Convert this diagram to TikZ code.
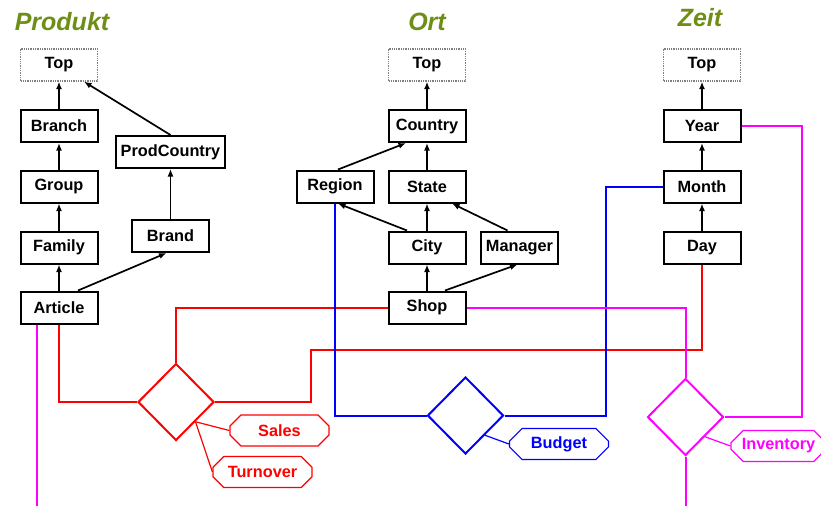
\documentclass[tikz,border=0pt]{standalone}
\usepackage{fontspec}
\setmainfont{Liberation Sans}
\usetikzlibrary{shapes.geometric,shapes.misc,arrows.meta}
\definecolor{titlegreen}{RGB}{110,142,22}
\definecolor{mag}{RGB}{255,0,255}
\begin{document}
\begin{tikzpicture}[x=1pt,y=-1pt,
  lvl/.style={draw=black,line width=2pt,fill=white,minimum width=77pt,minimum height=32pt,inner sep=0pt,font=\fontsize{16.3}{19}\selectfont\bfseries},
  topbox/.style={lvl,draw=gray,line width=1.3pt,densely dotted},
  ttl/.style={font=\fontsize{25}{29}\selectfont\bfseries\itshape,text=titlegreen},
  up/.style={-{Latex[length=7.5pt,width=6pt]},line width=1.7pt},
  rel/.style={draw,diamond,line width=2pt,minimum width=76pt,minimum height=77pt,inner sep=0pt},
  attr/.style={draw,chamfered rectangle,chamfered rectangle xsep=9pt,chamfered rectangle ysep=5pt,line width=1.2pt,minimum width=99pt,minimum height=31pt,inner sep=0pt,font=\fontsize{16.3}{19}\selectfont\bfseries},
  conn/.style={line width=2pt}]
\useasboundingbox (0,0) rectangle (821,506);
% titles
\node[ttl] (tp) at (62,22) {Produkt};
\node[ttl] (to) at (427,22) {Ort};
\node[ttl] (tz) at (700,18) {Zeit};
% Produkt
\node[topbox] (ptop) at (59,65) {Top};
\node[lvl] (branch) at (59,126) {Branch};
\node[lvl] (group) at (59,186.5) {Group};
\node[lvl] (family) at (59,247.5) {Family};
\node[lvl] (article) at (59,307.5) {Article};
\node[lvl,minimum width=109pt] (prodcountry) at (170.5,152) {ProdCountry};
\node[lvl] (brand) at (170.5,236) {Brand};
% Ort
\node[topbox] (otop) at (427,65) {Top};
\node[lvl] (country) at (427,126) {Country};
\node[lvl] (region) at (335,186.5) {Region};
\node[lvl] (state) at (427,186.5) {State};
\node[lvl] (city) at (427,247.5) {City};
\node[lvl] (manager) at (519.5,247.5) {Manager};
\node[lvl] (shop) at (427,307.5) {Shop};
% Zeit
\node[topbox] (ztop) at (702,65) {Top};
\node[lvl] (year) at (702,126) {Year};
\node[lvl] (month) at (702,186.5) {Month};
\node[lvl] (day) at (702,247.5) {Day};
% hierarchy arrows
\draw[up] (article.north) -- (family.south);
\draw[up] (family.north) -- (group.south);
\draw[up] (group.north) -- (branch.south);
\draw[up] (branch.north) -- (ptop.south);
\draw[up] ([xshift=19pt]article.north) -- ([xshift=-4pt]brand.south);
\draw[up] (brand.north) -- (prodcountry.south);
\draw[up] (prodcountry.north) -- ([xshift=25pt]ptop.south);
\draw[up] (country.north) -- (otop.south);
\draw[up] (state.north) -- (country.south);
\draw[up] ([xshift=3pt]region.north) -- ([xshift=-21pt]country.south);
\draw[up] (city.north) -- (state.south);
\draw[up] ([xshift=-20pt]city.north) -- ([xshift=3pt]region.south);
\draw[up] ([xshift=-12pt]manager.north) -- ([xshift=25pt]state.south);
\draw[up] (shop.north) -- (city.south);
\draw[up] ([xshift=18pt]shop.north) -- ([xshift=-2pt]manager.south);
\draw[up] (year.north) -- (ztop.south);
\draw[up] (month.north) -- (year.south);
\draw[up] (day.north) -- (month.south);
% Sales (red)
\node[rel,draw=red] (sales) at (176,402) {};
\node[attr,draw=red,text=red] (salesattr) at (279.5,430.5) {Sales};
\node[attr,draw=red,text=red] (turnover) at (262.5,472) {Turnover};
\coordinate (rk) at (311,350);
\draw[conn,red] (article.south) |- (sales.west);
\draw[conn,red] (sales.north) |- (shop.west);
\draw[conn,red] (sales.east) -| (rk) -| (day.south);
\draw[red,line width=1.2pt] (sales.south east) -- (salesattr.west);
\draw[red,line width=1.2pt] (sales.south east) -- (turnover.west);
% Budget (blue)
\node[rel,draw=blue] (budget) at (465.5,415.5) {};
\node[attr,draw=blue,text=blue] (budgetattr) at (559,444) {Budget};
\coordinate (bk) at (606,186.5);
\draw[conn,blue] (region.south) |- (budget.west);
\draw[conn,blue] (budget.east) -| (bk) -- (month.west);
\draw[blue,line width=1.2pt] (budget.south east) -- (budgetattr.west);
% Inventory (magenta)
\node[rel,draw=mag] (inventory) at (685.5,417) {};
\node[attr,draw=mag,text=mag,minimum width=95pt] (invattr) at (778.5,446) {Inventory};
\coordinate (mk) at (802,417);
\coordinate (mb1) at (37,506);
\coordinate (mb2) at (685.5,506);
\draw[conn,mag] (shop.east) -| (inventory.north);
\draw[conn,mag] (year.east) -| (mk) -- (inventory.east);
\draw[conn,mag] (inventory.south) -- (mb2);
\draw[conn,mag] ([xshift=-22pt]article.south) -- (mb1);
\draw[mag,line width=1.2pt] (inventory.south east) -- (invattr.west);
\end{tikzpicture}
\end{document}
